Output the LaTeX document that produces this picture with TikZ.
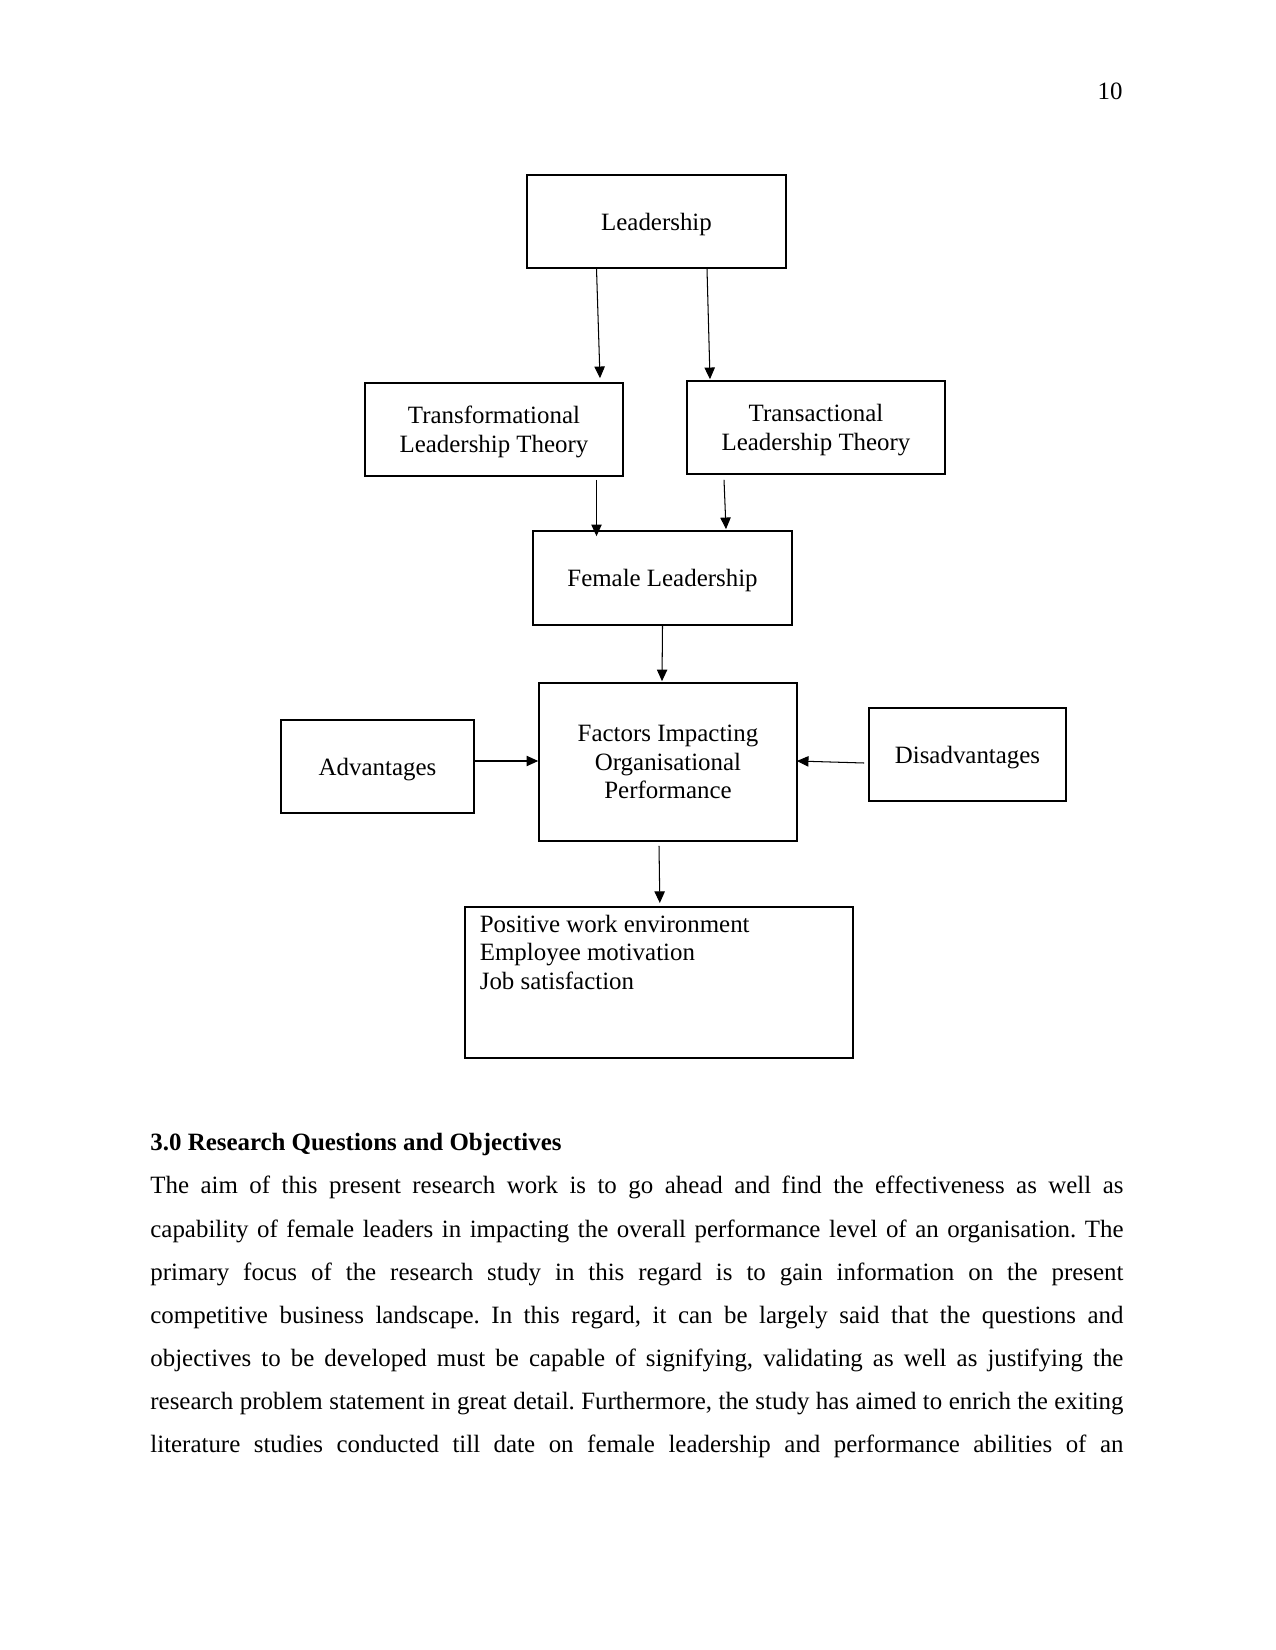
\documentclass[tikz,border=0pt]{standalone}
\usepackage{fontspec}
\setmainfont{Liberation Serif}
\usetikzlibrary{arrows.meta,calc}

\newdimen\pxu \pxu=0.4818pt
\tikzset{
	box/.style={draw,line width=0.8pt,align=center,inner sep=0pt,font=\fontsize{12}{13.8}\selectfont},
	low/.style={text depth=0pt},
	size/.style 2 args={minimum width=#1*\pxu,minimum height=#2*\pxu},
	link/.style={-{Triangle[length=5.6pt,width=5pt]},line width=0.5pt},
	page/.style={inner sep=0pt,font=\fontsize{12}{20.75}\selectfont},
}

\begin{document}
\frenchspacing
\begin{tikzpicture}[x=0.4818pt,y=-0.4818pt]
		\useasboundingbox (0,0) rectangle (1275,1650);
		\node[page,anchor=base east] (pgno) at (1123,100) {10};
		% framework
		\node[box,low,size={259}{93}] (lead) at (656.5,221.5) {Leadership};
		\node[box,low,size={258}{93}] (trf) at (494,429.5) {Transformational\\Leadership Theory};
		\node[box,low,size={258}{93}] (trs) at (816,427.5) {Transactional\\Leadership Theory};
		\node[box,low,size={259}{94}] (fem) at (662.5,578) {Female Leadership};
		\node[box,size={258}{158}] (fac) at (668,762) {Factors Impacting\\Organisational\\Performance};
		\node[box,low,size={193}{93}] (adv) at (377.5,766.5) {Advantages};
		\node[box,low,size={197}{93}] (dis) at (967.5,754.5) {Disadvantages};
		\node[box,anchor=north west,inner xsep=15*\pxu,inner ysep=8*\pxu] (out) at (464,906)
			{\parbox[t][135\pxu][t]{358\pxu}{Positive work environment\\Employee motivation\\Job satisfaction}};
		\draw[link] ($(lead.south)+(-60,0)$) -- ($(trf.north)+(106,-4)$);
		\draw[link] ($(lead.south)+(50.5,0)$) -- ($(trs.north)+(-106,-1)$);
		\draw[link] ($(trf.south)+(102.5,3)$) -- ($(fem.north)+(-66,6)$);
		\draw[link] ($(trs.south)+(-92,5)$) -- ($(fem.north)+(63.5,-1)$);
		\draw[link] (fem.south) -- ($(fac.north)+(-6,-1)$);
		\draw[link] ($(adv.east)+(0,-5.5)$) -- ($(fac.west)+(0,-1)$);
		\draw[link] ($(dis.west)+(-4,8.5)$) -- ($(fac.east)+(-1,-1)$);
		\draw[link] ($(fac.south)+(-9,4)$) -- ($(out.north)+(1,-3)$);
		% text below
		\node[page,anchor=base west,font=\fontsize{12}{20.75}\selectfont\bfseries] (head) at (150,1150)
			{3.0 Research Questions and Objectives};
		\node[page,anchor=north west,align=left] (body) at (150,1176) {%
			\makebox[973\pxu][s]{The aim of this present research work is to go ahead and find the effectiveness as well as}\\
			\makebox[973\pxu][s]{capability of female leaders in impacting the overall performance level of an organisation. The}\\
			\makebox[973\pxu][s]{primary focus of the research study in this regard is to gain information on the present}\\
			\makebox[973\pxu][s]{competitive business landscape. In this regard, it can be largely said that the questions and}\\
			\makebox[973\pxu][s]{objectives to be developed must be capable of signifying, validating as well as justifying the}\\
			\makebox[973\pxu][s]{research problem statement in great detail. Furthermore, the study has aimed to enrich the exiting}\\
			\makebox[973\pxu][s]{literature studies conducted till date on female leadership and performance abilities of an}};
	\end{tikzpicture}
\end{document}
